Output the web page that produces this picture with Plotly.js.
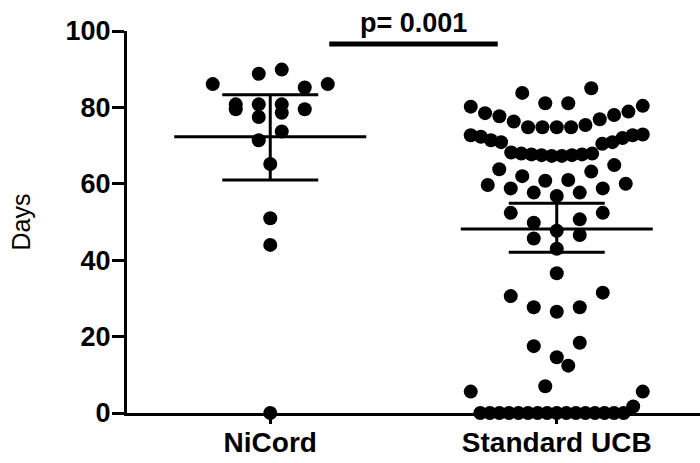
<!DOCTYPE html>
<html><head><meta charset="utf-8">
<script src="https://cdn.plot.ly/plotly-3.0.1.min.js"></script>
<style>html,body{margin:0;padding:0;background:#fff}#chart{width:700px;height:463px}</style>
</head><body><div id="chart"></div>
<script>
// ---- data ----
const categories = ['NiCord', 'Standard UCB'];
const nicordDays = [89.9, 88.8, 86.1, 86.1, 85.2, 80.8, 80.8, 80.8, 79.5, 79.5, 78.6, 77.5,
                    73.7, 71.4, 65.2, 51.0, 44.0, 0];
const ucbDays = [85.0, 83.8, 81.1, 81.1,
                 80.4, 80.2, 78.9, 78.5, 78.0, 77.7, 76.9, 76.3, 75.4, 74.8, 74.8, 74.8, 74.8,
                 72.9, 72.7, 72.7, 72.3, 72.0, 71.4, 70.9, 70.9, 70.5, 68.2, 67.9, 67.9, 67.7, 67.7, 67.5, 67.5, 67.3, 67.3,
                 64.9, 63.8, 63.2, 62.0, 61.0, 60.8,
                 60.0, 59.7, 58.8, 58.8, 57.7, 57.7, 56.8,
                 52.4, 52.4, 50.7, 49.8, 47.7,
                 46.6, 45.7, 43.0,
                 36.6,
                 31.5, 30.6, 27.7, 27.7, 26.5,
                 18.4, 17.5, 14.6,
                 12.4, 7.0,
                 5.6, 5.6, 1.7, 0, 0, 0, 0, 0, 0, 0, 0, 0, 0, 0, 0, 0, 0, 0, 0];
const groupMeans = [72.3, 48.2];
const ciUpper = [83.3, 54.9];
const ciLower = [61.0, 42.1];
const pLabel = 'p= 0.001';
const yTickVals = [0, 20, 40, 60, 80, 100];

// ---- layout constants ----
const W = 700, H = 463, M = {l: 127, r: 0, t: 31, b: 50};
const xRange = [-0.5, 1.5];
const pxPerX = (W - M.l - M.r) / (xRange[1] - xRange[0]);
const FONT = 'Liberation Sans, Arial, sans-serif';

// Prism-like scatter layout: values binned in rows, spread centre-out
function swarm(values, center) {
  const binH = 6.8, binOff = -0.9, step = 23, maxW = 172;
  const bins = {};
  values.forEach(v => { const k = Math.floor((v - binOff) / binH); (bins[k] = bins[k] || []).push(v); });
  const xs = [], ys = [];
  Object.values(bins).forEach(row => {
    row.sort((a, b) => a - b);
    const n = row.length;
    const s = n > 1 ? Math.min(step, maxW / (n - 1)) : 0;
    row.forEach((v, i) => {
      let slot;
      if (n % 2 === 1) { if (i === 0) slot = 0; else { const k = Math.ceil(i / 2); slot = (i % 2 === 1 ? -k : k); } }
      else { const k = Math.floor(i / 2) + 0.5; slot = (i % 2 === 0 ? -k : k); }
      xs.push(center + slot * s / pxPerX); ys.push(v);
    });
  });
  return {xs, ys};
}

const groups = [nicordDays, ucbDays];
const traces = [];
groups.forEach((vals, gi) => {
  const sw = swarm(vals, gi);
  traces.push({type: 'scatter', mode: 'markers', x: sw.xs, y: sw.ys, cliponaxis: false,
    marker: {color: '#000', size: 14, line: {width: 0}}, hoverinfo: 'skip', showlegend: false});
});
// mean lines
const meanHalf = 96 / pxPerX;
groupMeans.forEach((m, gi) => {
  traces.push({type: 'scatter', mode: 'lines', x: [gi - meanHalf, gi + meanHalf], y: [m, m],
    line: {color: '#000', width: 3}, hoverinfo: 'skip', showlegend: false, cliponaxis: false});
});
// CI error bars
traces.push({type: 'scatter', mode: 'markers', x: [0, 1], y: groupMeans,
  marker: {size: 1, color: 'rgba(0,0,0,0)'}, hoverinfo: 'skip', showlegend: false, cliponaxis: false,
  error_y: {type: 'data', symmetric: false,
    array: groupMeans.map((m, i) => ciUpper[i] - m),
    arrayminus: groupMeans.map((m, i) => m - ciLower[i]),
    width: 48, thickness: 3, color: '#000'}});

const pBarHalf = 0.294, pBarY = 96.6;
const layout = {
  width: W, height: H, margin: M, paper_bgcolor: '#fff', plot_bgcolor: '#fff', showlegend: false,
  font: {family: FONT, color: '#000'},
  xaxis: {range: xRange, tickvals: [0, 1], ticktext: categories, showgrid: false, zeroline: false,
    showline: true, linewidth: 3, linecolor: '#000', ticks: 'outside', ticklen: 8, tickwidth: 3, tickcolor: '#000',
    tickfont: {family: FONT, size: 28, weight: 'bold', color: '#000'}, ticklabelstandoff: -6, fixedrange: true},
  yaxis: {range: [0, 100], tickvals: yTickVals, showgrid: false, zeroline: false,
    showline: true, linewidth: 3, linecolor: '#000', ticks: 'outside', ticklen: 12, tickwidth: 3, tickcolor: '#000',
    tickfont: {family: FONT, size: 27, weight: 'bold', color: '#000'}, ticklabelstandoff: -4,
    title: {text: 'Days', font: {family: FONT, size: 25, color: '#000'}, standoff: 28}, fixedrange: true},
  shapes: [{type: 'line', xref: 'x', yref: 'y', x0: 0.5 - pBarHalf, x1: 0.5 + pBarHalf, y0: pBarY, y1: pBarY,
    line: {color: '#000', width: 5}}],
  annotations: [{xref: 'x', yref: 'y', x: 0.5, y: pBarY, yshift: 21, text: pLabel, showarrow: false, yanchor: 'middle',
    font: {family: FONT, size: 27, weight: 'bold', color: '#000'}}]
};
Plotly.newPlot('chart', traces, layout, {displayModeBar: false, staticPlot: true});
</script>
</body></html>
